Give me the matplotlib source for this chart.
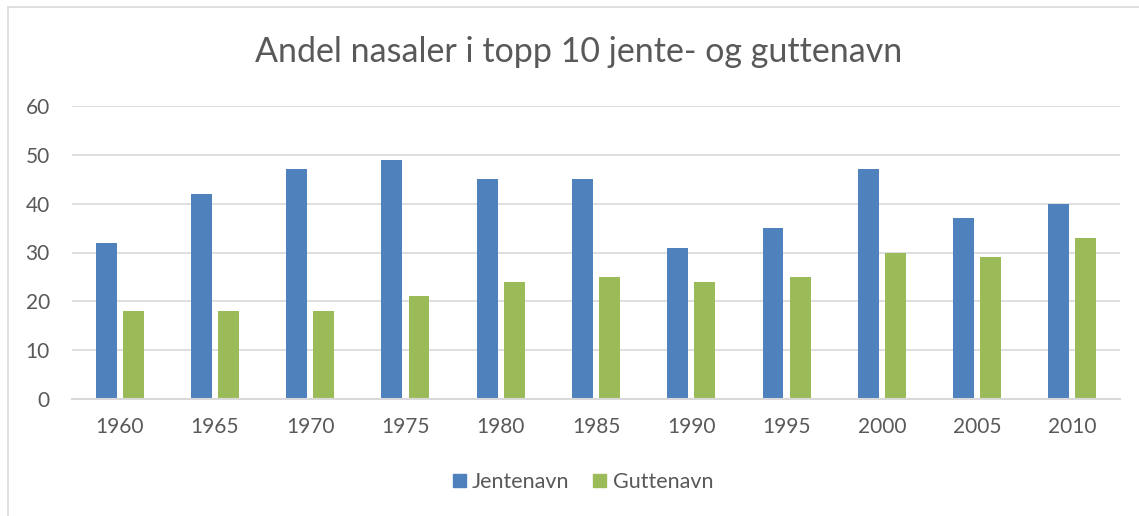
import matplotlib
matplotlib.use("Agg")
import matplotlib.pyplot as plt
import numpy as np
from matplotlib.patches import Patch, Rectangle

years = ["1960", "1965", "1970", "1975", "1980", "1985", "1990", "1995", "2000", "2005", "2010"]
jentenavn = [32, 42, 47, 49, 45, 45, 31, 35, 47, 37, 40]
guttenavn = [18, 18, 18, 21, 24, 25, 24, 25, 30, 29, 33]

BLUE, GREEN = "#4F81BD", "#9BBB59"
TXT, GRID = "#595959", "#D9D9D9"

plt.rcParams["font.family"] = ["Lato", "DejaVu Sans"]

W, H = 1139, 516
fig = plt.figure(figsize=(W / 100, H / 100), dpi=100)
fig.patches.append(Rectangle((8 / W, -0.1), 1.2, 1 - 7 / H + 0.1, transform=fig.transFigure,
                             fill=False, edgecolor=GRID, lw=1.2))
ax = fig.add_axes([72 / W, 1 - 399 / H, (1120 - 72) / W, (399 - 106) / H])

x = np.arange(len(years))
w, off = 0.22, 0.142
ax.bar(x - off, jentenavn, w, color=BLUE, label="Jentenavn", zorder=2)
ax.bar(x + off, guttenavn, w, color=GREEN, label="Guttenavn", zorder=2)

ax.set_xlim(-0.5, len(years) - 0.5)
ax.set_ylim(0, 60)
ax.set_yticks(range(0, 61, 10))
ax.set_xticks(x)
ax.set_xticklabels(years)
ax.yaxis.grid(True, color=GRID, lw=1.2, zorder=0)
for s in ["top", "right", "left"]:
    ax.spines[s].set_visible(False)
ax.spines["bottom"].set_color(GRID)
ax.spines["bottom"].set_linewidth(1.5)
ax.tick_params(length=0, labelsize=15, colors=TXT)
ax.tick_params(axis="x", pad=13)
ax.tick_params(axis="y", pad=16)

fig.text(0.508, 1 - 52 / H, "Andel nasaler i topp 10 jente- og guttenavn",
         ha="center", va="center", fontsize=24.5, color=TXT)

fig.legend(handles=[Patch(color=BLUE, label="Jentenavn"), Patch(color=GREEN, label="Guttenavn")],
           loc="center", bbox_to_anchor=(583 / W, 1 - 482 / H), ncol=2, frameon=False,
           fontsize=15.5, labelcolor=TXT, handlelength=0.6, handleheight=0.6,
           handletextpad=0.3, columnspacing=1.1)

fig.savefig("out.png", dpi=100)
